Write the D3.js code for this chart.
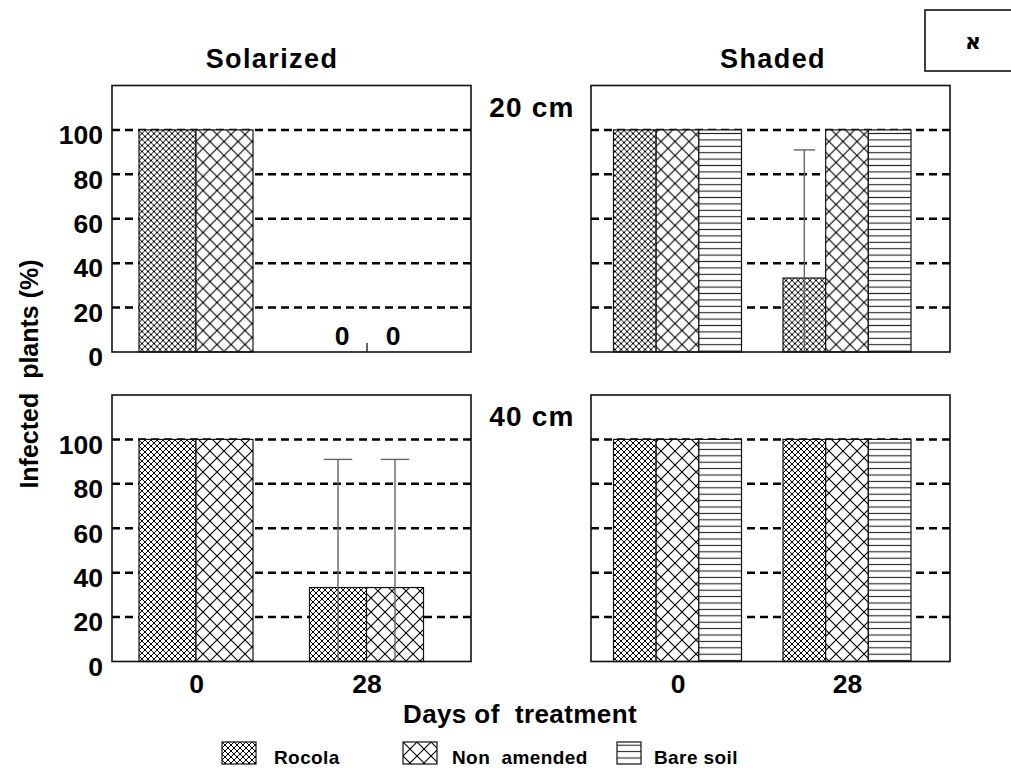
<!DOCTYPE html>
<html>
<head>
<meta charset="utf-8" />
<title>Infected plants</title>
<script src="https://cdn.jsdelivr.net/npm/d3@7"></script>
<style type="text/css">
	body { margin: 0; background: #fff; }
	text {
		font-family: "Liberation Sans", Arial, "DejaVu Sans", sans-serif;
		font-weight: bold;
		fill: #000;
	}
	.tick text { font-size: 26.5px; }
	.grid line {
		stroke: #000;
		stroke-width: 2.5px;
		stroke-dasharray: 8,5;
	}
	.frame {
		fill: none;
		stroke: #111;
		stroke-width: 1.6px;
	}
	.bar {
		stroke: #111;
		stroke-width: 1.2px;
	}
	.err line {
		stroke: #666;
		stroke-width: 1.4px;
	}
	.x.axis .tick line { stroke: #000; stroke-width: 1.2px; }
</style>
</head>
<body>
<div id="chart"></div>

<script type="text/javascript">
	// ---- data ----
	var days = ["0", "28"];
	var seriesNames = ["Rocola", "Non amended", "Bare soil"];
	var yTicks = [0, 20, 40, 60, 80, 100];
	var treatments = ["Solarized", "Shaded"];
	var depths = ["20 cm", "40 cm"];

	// infected plants (%) at day 0 and day 28
	var solar20Rocola = [100, 0];
	var solar20NonAmended = [100, 0];
	var solar40Rocola = [100, 33.3];
	var solar40NonAmended = [100, 33.3];
	var shade20Rocola = [100, 33.3];
	var shade20NonAmended = [100, 100];
	var shade20BareSoil = [100, 100];
	var shade40Rocola = [100, 100];
	var shade40NonAmended = [100, 100];
	var shade40BareSoil = [100, 100];

	// standard deviation (only where drawn)
	var solar40RocolaErr = [0, 57.7];
	var solar40NonAmendedErr = [0, 57.7];
	var shade20RocolaErr = [0, 57.7];

	// ---- layout ----
	var width = 1011, height = 772;
	var panelW = 359, panelH = 266.5;
	var colX = [112, 591];
	var rowY = [85.5, 395];
	var groupRange = [[84, 254.5], [86.5, 256]];
	var groupWidth = [114, 128];

	var panels = [
		{col: 0, row: 0, series: [
			{name: "Rocola", values: solar20Rocola},
			{name: "Non amended", values: solar20NonAmended}]},
		{col: 1, row: 0, series: [
			{name: "Rocola", values: shade20Rocola, err: shade20RocolaErr},
			{name: "Non amended", values: shade20NonAmended},
			{name: "Bare soil", values: shade20BareSoil}]},
		{col: 0, row: 1, series: [
			{name: "Rocola", values: solar40Rocola, err: solar40RocolaErr},
			{name: "Non amended", values: solar40NonAmended, err: solar40NonAmendedErr}]},
		{col: 1, row: 1, series: [
			{name: "Rocola", values: shade40Rocola},
			{name: "Non amended", values: shade40NonAmended},
			{name: "Bare soil", values: shade40BareSoil}]}
	];

	var svg = d3.select("#chart").append("svg")
		.attr("width", width)
		.attr("height", height);

	// ---- hatch patterns ----
	var defs = svg.append("defs");
	var patternId = {"Rocola": "hatch-rocola", "Non amended": "hatch-non", "Bare soil": "hatch-bare"};

	function crossHatch(id, s, sw) {
		var p = defs.append("pattern")
			.attr("id", id)
			.attr("patternUnits", "userSpaceOnUse")
			.attr("width", s).attr("height", s);
		p.append("rect").attr("width", s).attr("height", s).attr("fill", "#fff");
		p.append("path")
			.attr("d", "M-1,-1L" + (s + 1) + "," + (s + 1) + "M" + (s + 1) + ",-1L-1," + (s + 1))
			.attr("stroke", "#000")
			.attr("stroke-width", sw);
	}
	crossHatch("hatch-rocola", 6, 1);
	crossHatch("hatch-non", 14, 1.1);

	var bare = defs.append("pattern")
		.attr("id", "hatch-bare")
		.attr("patternUnits", "userSpaceOnUse")
		.attr("width", 8).attr("height", 6.4);
	bare.append("rect").attr("width", 8).attr("height", 6.4).attr("fill", "#fff");
	bare.append("line")
		.attr("x1", 0).attr("x2", 8).attr("y1", 3.2).attr("y2", 3.2)
		.attr("stroke", "#222").attr("stroke-width", 1.1);

	var y = d3.scaleLinear().domain([0, 120]).range([panelH, 0]);

	panels.forEach(function(p) {
		var g = svg.append("g")
			.attr("transform", "translate(" + colX[p.col] + "," + rowY[p.row] + ")");

		var x = d3.scalePoint().domain(days).range(groupRange[p.col]);
		var names = p.series.map(function(s) { return s.name; });
		var gw = groupWidth[p.col];
		var xs = d3.scaleBand().domain(names).range([-gw / 2, gw / 2]).padding(0);

		// dashed gridlines
		g.append("g").attr("class", "grid")
			.selectAll("line")
			.data(yTicks.filter(function(d) { return d > 0; }))
			.enter().append("line")
			.attr("x1", 0).attr("x2", panelW)
			.attr("y1", function(d) { return y(d); })
			.attr("y2", function(d) { return y(d); });

		// x axis: inward ticks, labels only on bottom row
		var xAxis = g.append("g")
			.attr("class", "x axis")
			.attr("transform", "translate(0," + panelH + ")")
			.call(d3.axisBottom(x).tickSizeInner(-9).tickSizeOuter(0).tickPadding(13)
				.tickFormat(function(d) { return p.row === 1 ? d : ""; }));
		xAxis.select(".domain").remove();

		// y axis labels on the left column only
		if (p.col === 0) {
			var yAxis = g.append("g")
				.attr("class", "y axis")
				.call(d3.axisLeft(y).tickValues(yTicks).tickSize(0).tickPadding(9));
			yAxis.select(".domain").remove();
			yAxis.selectAll("text").attr("dy", "0.52em");
		}

		// bars
		var flat = [];
		p.series.forEach(function(s) {
			days.forEach(function(d, i) {
				flat.push({name: s.name, day: d, value: s.values[i], err: s.err ? s.err[i] : 0});
			});
		});

		g.selectAll(".bar")
			.data(flat)
			.enter().append("rect")
			.attr("class", "bar")
			.attr("x", function(d) { return x(d.day) + xs(d.name); })
			.attr("width", xs.bandwidth())
			.attr("y", function(d) { return y(d.value); })
			.attr("height", function(d) { return y(0) - y(d.value); })
			.attr("fill", function(d) { return "url(#" + patternId[d.name] + ")"; });

		// error bars (upper cap only, line clipped at zero)
		var errG = g.selectAll(".err")
			.data(flat.filter(function(d) { return d.err > 0; }))
			.enter().append("g")
			.attr("class", "err")
			.attr("transform", function(d) { return "translate(" + (x(d.day) + xs(d.name) + xs.bandwidth() / 2) + ",0)"; });
		errG.append("line")
			.attr("x1", 0).attr("x2", 0)
			.attr("y1", function(d) { return y(Math.max(0, d.value - d.err)); })
			.attr("y2", function(d) { return y(d.value + d.err); });
		errG.append("line")
			.attr("x1", -xs.bandwidth() / 4).attr("x2", xs.bandwidth() / 4)
			.attr("y1", function(d) { return y(d.value + d.err); })
			.attr("y2", function(d) { return y(d.value + d.err); });

		// zero labels
		g.selectAll(".zero")
			.data(flat.filter(function(d) { return d.value === 0; }))
			.enter().append("text")
			.attr("class", "zero")
			.attr("x", function(d) { return x(d.day) + xs(d.name) + xs.bandwidth() / 2 + (d.name === "Rocola" ? 4 : -2); })
			.attr("y", y(0) - 7)
			.attr("text-anchor", "middle")
			.style("font-size", "26.5px")
			.text("0");

		// frame
		g.append("rect")
			.attr("class", "frame")
			.attr("width", panelW)
			.attr("height", panelH);
	});

	// ---- titles ----
	var titleX = [272, 773];
	treatments.forEach(function(t, i) {
		svg.append("text")
			.attr("x", titleX[i]).attr("y", 68)
			.attr("text-anchor", "middle")
			.style("font-size", "27px")
			.style("letter-spacing", "1.4px")
			.text(t);
	});

	depths.forEach(function(dp, i) {
		svg.append("text")
			.attr("x", 532).attr("y", rowY[i] + 31)
			.attr("text-anchor", "middle")
			.style("font-size", "28px")
			.style("letter-spacing", "1.2px")
			.text(dp);
	});

	svg.append("text")
		.attr("x", 520).attr("y", 723)
		.attr("text-anchor", "middle")
		.style("white-space", "pre")
		.style("font-size", "26px")
		.style("letter-spacing", "0.4px")
		.text("Days of  treatment");

	svg.append("text")
		.attr("transform", "translate(38,374) rotate(-90)")
		.attr("text-anchor", "middle")
		.style("white-space", "pre")
		.style("font-size", "25px")
		.text("Infected  plants (%)");

	// box with letter in top right corner
	svg.append("rect")
		.attr("x", 925).attr("y", 10)
		.attr("width", 110).attr("height", 61)
		.attr("fill", "none").attr("stroke", "#111").attr("stroke-width", 1.6);
	svg.append("text")
		.attr("x", 973).attr("y", 49)
		.attr("text-anchor", "middle")
		.style("font-family", "'DejaVu Sans', sans-serif")
		.style("font-size", "22px")
		.text("א");

	// ---- legend ----
	var legendX = [222, 403, 617];
	var legendW = [34, 34, 24];
	var legendGap = [18, 15, 13];
	var legend = svg.selectAll(".legend")
		.data(seriesNames)
		.enter().append("g")
		.attr("class", "legend")
		.attr("transform", function(d, i) { return "translate(" + legendX[i] + ",742)"; });
	legend.append("rect")
		.attr("width", function(d, i) { return legendW[i]; })
		.attr("height", 22)
		.attr("fill", function(d) { return "url(#" + patternId[d] + ")"; })
		.attr("stroke", "#111")
		.attr("stroke-width", 1.2);
	legend.append("text")
		.attr("x", function(d, i) { return legendW[i] + legendGap[i]; })
		.attr("y", 22)
		.style("white-space", "pre")
		.style("font-size", "19px")
		.style("letter-spacing", "0.4px")
		.text(function(d) { return d === "Non amended" ? "Non  amended" : d; });
</script>
</body>
</html>
